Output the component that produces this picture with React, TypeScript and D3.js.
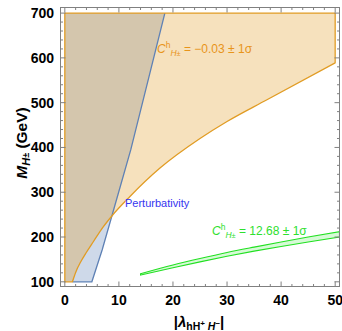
import React from "react";
import * as d3 from "d3";

const W = 342;
const H = 331;

const xTicks = [0, 10, 20, 30, 40, 50];
const yTicks = [100, 200, 300, 400, 500, 600, 700];

// Perturbativity boundary (lambda, M)
const perturbLambda = [5, 6.9, 8.7, 12.2, 18.5];
const perturbM = [100, 171, 247, 395, 700];

// C^h = -0.03 ± 1σ lower boundary curve
const orangeLambda = [1.4, 2, 3, 4, 5.3, 7, 8.7, 12, 17.6, 25, 30, 37.3, 50];
const orangeM = [100, 121, 146, 166, 190, 221, 247, 290, 354, 420, 458, 506, 589];

// C^h = 12.68 ± 1σ band edges
const greenLambda = [14, 20, 25, 30, 35, 40, 45, 50.8];
const greenUpper = [118, 137.5, 152, 165.5, 177.5, 189, 200, 212];
const greenLower = [115, 131.5, 144.5, 157, 168.5, 179, 189, 200];

const regionTop = 700;
const regionBottom = 100;
const regionLeft = 0;
const regionRight = 50;

export default function App() {
  const x = d3.scaleLinear().domain([-0.8, 50.8]).range([60.5, 339.5]);
  const y = d3.scaleLinear().domain([89.5, 712.5]).range([286.5, 7.5]);

  const line = d3
    .line<[number, number]>()
    .x((d) => x(d[0]))
    .y((d) => y(d[1]));

  const perturbPts: [number, number][] = [
    [regionLeft, regionBottom],
    ...perturbLambda.map((l, i) => [l, perturbM[i]] as [number, number]),
    [regionLeft, regionTop],
  ];
  const perturbEdge: [number, number][] = [
    [orangeLambda[0], regionBottom],
    ...perturbLambda.map((l, i) => [l, perturbM[i]] as [number, number]),
  ];

  const smooth = d3
    .line<[number, number]>()
    .x((d) => x(d[0]))
    .y((d) => y(d[1]))
    .curve(d3.curveMonotoneX);
  const orangeCurvePts: [number, number][] = orangeLambda.map(
    (l, i) => [l, orangeM[i]] as [number, number]
  );
  const orangePath =
    `M${x(regionLeft)},${y(regionBottom)}` +
    smooth(orangeCurvePts)!.replace(/^M/, "L") +
    `L${x(regionRight)},${y(regionTop)}L${x(regionLeft)},${y(regionTop)}Z`;

  const upperPts: [number, number][] = greenLambda.map(
    (l, i) => [l, greenUpper[i]] as [number, number]
  );
  const lowerPts: [number, number][] = greenLambda.map(
    (l, i) => [l, greenLower[i]] as [number, number]
  );
  const greenPath =
    smooth(upperPts)! + smooth([...lowerPts].reverse())!.replace(/^M/, "L") + "Z";

  const x0 = 60.5,
    x1 = 339.5,
    y0 = 7.5,
    y1 = 286.5;

  const xMinor = d3.range(0, 51, 2).filter((v) => v % 10 !== 0);
  const yMinor = d3.range(100, 701, 20).filter((v) => v % 100 !== 0);

  const frameColor = "#808080";
  const font = "'Liberation Sans', Arial, sans-serif";

  const label = (value: string, color: string, lx: number, ly: number) => (
    <text x={lx} y={ly} fontSize={12} fill={color}>
      <tspan fontStyle="italic">C</tspan>
      <tspan fontSize={8.5} dy={-5}>h</tspan>
      <tspan fontSize={8.5} dy={8} fontStyle="italic">H</tspan>
      <tspan fontSize={7.5}>±</tspan>
      <tspan dy={-3}>{" = " + value + " ± 1σ"}</tspan>
    </text>
  );

  return (
    <svg
      width={W}
      height={H}
      style={{ position: "absolute", left: 0, top: 0, background: "#fff" }}
      fontFamily={font}
    >
      <defs>
        <clipPath id="plotClip">
          <rect x={x0} y={y0} width={x1 - x0} height={y1 - y0} />
        </clipPath>
      </defs>
      <g clipPath="url(#plotClip)">
        <path d={line(perturbPts)! + "Z"} fill="#5e81b5" fillOpacity={0.3} stroke="none" />
        <path d={orangePath} fill="#e19c24" fillOpacity={0.3} stroke="none" />
        <path d={line(perturbEdge)!} fill="none" stroke="#5e81b5" strokeWidth={1.3} />
        <path d={orangePath} fill="none" stroke="#e19c24" strokeWidth={1.3} strokeLinejoin="round" />
        <path d={greenPath} fill="#33e633" fillOpacity={0.2} stroke="#22e022" strokeWidth={1.1} />
      </g>

      <rect x={x0} y={y0} width={x1 - x0} height={y1 - y0} fill="none" stroke={frameColor} strokeWidth={1} />
      {xTicks.map((t) => (
        <g key={"xt" + t}>
          <line x1={x(t)} x2={x(t)} y1={y1} y2={y1 - 5} stroke={frameColor} />
          <line x1={x(t)} x2={x(t)} y1={y0} y2={y0 + 5} stroke={frameColor} />
          <text x={x(t)} y={305} textAnchor="middle" fontSize={14} fontWeight="bold" fill="#000">
            {t}
          </text>
        </g>
      ))}
      {xMinor.map((t) => (
        <g key={"xm" + t}>
          <line x1={x(t)} x2={x(t)} y1={y1} y2={y1 - 2.5} stroke={frameColor} />
          <line x1={x(t)} x2={x(t)} y1={y0} y2={y0 + 2.5} stroke={frameColor} />
        </g>
      ))}
      {yTicks.map((t) => (
        <g key={"yt" + t}>
          <line x1={x0} x2={x0 + 5} y1={y(t)} y2={y(t)} stroke={frameColor} />
          <line x1={x1} x2={x1 - 5} y1={y(t)} y2={y(t)} stroke={frameColor} />
          <text x={54} y={y(t) + 5} textAnchor="end" fontSize={14} fontWeight="bold" fill="#000">
            {t}
          </text>
        </g>
      ))}
      {yMinor.map((t) => (
        <g key={"ym" + t}>
          <line x1={x0} x2={x0 + 2.5} y1={y(t)} y2={y(t)} stroke={frameColor} />
          <line x1={x1} x2={x1 - 2.5} y1={y(t)} y2={y(t)} stroke={frameColor} />
        </g>
      ))}

      {label("−0.03", "#e8941a", 157, 53)}
      <text x={125} y={207} fontSize={11} fill="#3535f0">
        Perturbativity
      </text>
      {label("12.68", "#2ee02e", 212, 235)}

      <text x={199} y={327} textAnchor="middle" fontSize={15} fontWeight="bold" fill="#000">
        <tspan>|</tspan>
        <tspan fontStyle="italic">λ</tspan>
        <tspan fontSize={10.5} dy={3}>hH</tspan>
        <tspan fontSize={8} dy={-4}>+</tspan>
        <tspan fontSize={10.5} dy={4} fontStyle="italic"> H</tspan>
        <tspan fontSize={8} dy={-4}>−</tspan>
        <tspan dy={1}>|</tspan>
      </text>
      <text
        transform={`translate(27,143) rotate(-90)`}
        textAnchor="middle"
        fontSize={15.5}
        fontWeight="bold"
        fill="#000"
      >
        <tspan fontStyle="italic">M</tspan>
        <tspan fontSize={11} dy={3} fontStyle="italic">H</tspan>
        <tspan fontSize={9} dy={-1}>±</tspan>
        <tspan dy={-2}> (GeV)</tspan>
      </text>
    </svg>
  );
}
